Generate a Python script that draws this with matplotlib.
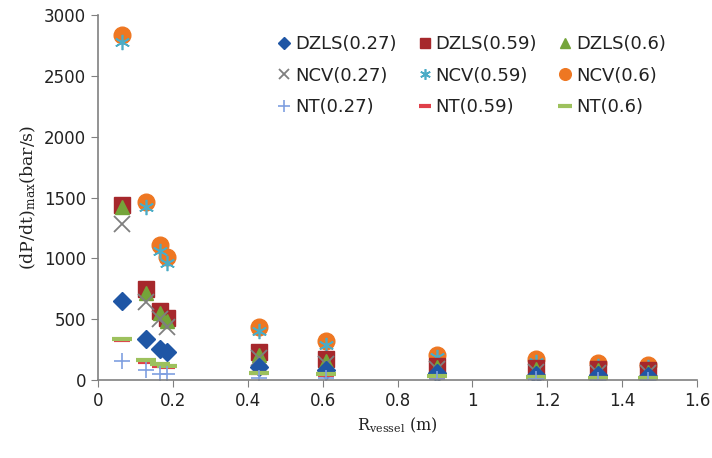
import matplotlib.pyplot as plt

plt.rcParams['mathtext.fontset'] = 'dejavuserif'

# Raio do vaso (m)
r_vessel = [0.065, 0.127, 0.165, 0.185, 0.43, 0.61, 0.905, 1.17, 1.335, 1.47]

# (dP/dt)max (bar/s) por modelo
dzls_027 = [650, 340, 255, 230, 110, 80, 55, 45, 40, 35]
dzls_059 = [1440, 750, 570, 510, 230, 170, 120, 100, 90, 80]
dzls_06 = [1420, 720, 550, 490, 210, 160, 110, 90, 80, 70]
ncv_027 = [1280, 640, 500, 440, 180, 130, 90, 70, 60, 55]
ncv_059 = [2780, 1420, 1060, 960, 400, 290, 190, 150, 120, 110]
ncv_06 = [2840, 1460, 1110, 1010, 440, 320, 210, 170, 140, 125]
nt_027 = [160, 80, 50, 50, 20, 15, 10, 8, 5, 5]
nt_059 = [330, 150, 120, 110, 55, 45, 28, 22, 18, 18]
nt_06 = [340, 165, 130, 120, 60, 50, 30, 25, 20, 20]

fig = plt.figure(figsize=(7.12, 4.58), dpi=100)
ax = fig.add_axes([0.1376, 0.170, 0.8414, 0.797])

# desenha na ordem de sobreposicao (circulos atras)
h = {}
h['NCV(0.6)'], = ax.plot(r_vessel, ncv_06, 'o', color='#EE7722', ms=12, mec='#EE7722')
h['NCV(0.59)'], = ax.plot(r_vessel, ncv_059, marker=(6, 2, 0), ls='none', color='#4BACC6', ms=11, mew=1.2)
h['DZLS(0.59)'], = ax.plot(r_vessel, dzls_059, 's', color='#A6282C', ms=11)
h['DZLS(0.6)'], = ax.plot(r_vessel, dzls_06, '^', color='#74A43A', ms=10)
h['NCV(0.27)'], = ax.plot(r_vessel, ncv_027, 'x', color='#7F7F7F', ms=11, mew=1.3)
h['DZLS(0.27)'], = ax.plot(r_vessel, dzls_027, 'D', color='#1F56A5', ms=9)
h['NT(0.59)'], = ax.plot(r_vessel, nt_059, '_', color='#E0404A', ms=12, mew=3)
h['NT(0.6)'], = ax.plot(r_vessel, nt_06, '_', color='#9DC15D', ms=14, mew=3)
h['NT(0.27)'], = ax.plot(r_vessel, nt_027, '+', color='#7F9FE0', ms=12, mew=1.2)

# legenda em 3 colunas, preenchida linha a linha
ordem = ['DZLS(0.27)', 'NCV(0.27)', 'NT(0.27)',
         'DZLS(0.59)', 'NCV(0.59)', 'NT(0.59)',
         'DZLS(0.6)', 'NCV(0.6)', 'NT(0.6)']
leg = ax.legend([h[k] for k in ordem], ordem, ncol=3, frameon=False,
                loc='upper right', bbox_to_anchor=(0.975, 0.99),
                fontsize=13, handlelength=0.8, handletextpad=0.2,
                columnspacing=1.15, labelspacing=0.75, markerscale=0.7)
for t in leg.get_texts():
    t.set_color('#222222')

ax.set_xlim(0, 1.6)
ax.set_ylim(0, 3000)
ax.set_xticks([0, 0.2, 0.4, 0.6, 0.8, 1, 1.2, 1.4, 1.6])
ax.set_xticklabels(['0', '0.2', '0.4', '0.6', '0.8', '1', '1.2', '1.4', '1.6'])
ax.set_yticks(range(0, 3001, 500))

for s in ['top', 'right']:
    ax.spines[s].set_visible(False)
for s in ['left', 'bottom']:
    ax.spines[s].set_color('#808080')
    ax.spines[s].set_linewidth(1.2)
ax.tick_params(colors='#808080', labelcolor='#222222', labelsize=12, length=5)

ax.set_xlabel(r'R$_{\rm vessel}$ (m)', family='DejaVu Serif', fontsize=11.5, color='#222222')
ax.set_ylabel(r'(dP/dt)$_{\rm max}$(bar/s)', family='DejaVu Serif', fontsize=12.5, color='#222222')

fig.savefig('out.png', dpi=100)
